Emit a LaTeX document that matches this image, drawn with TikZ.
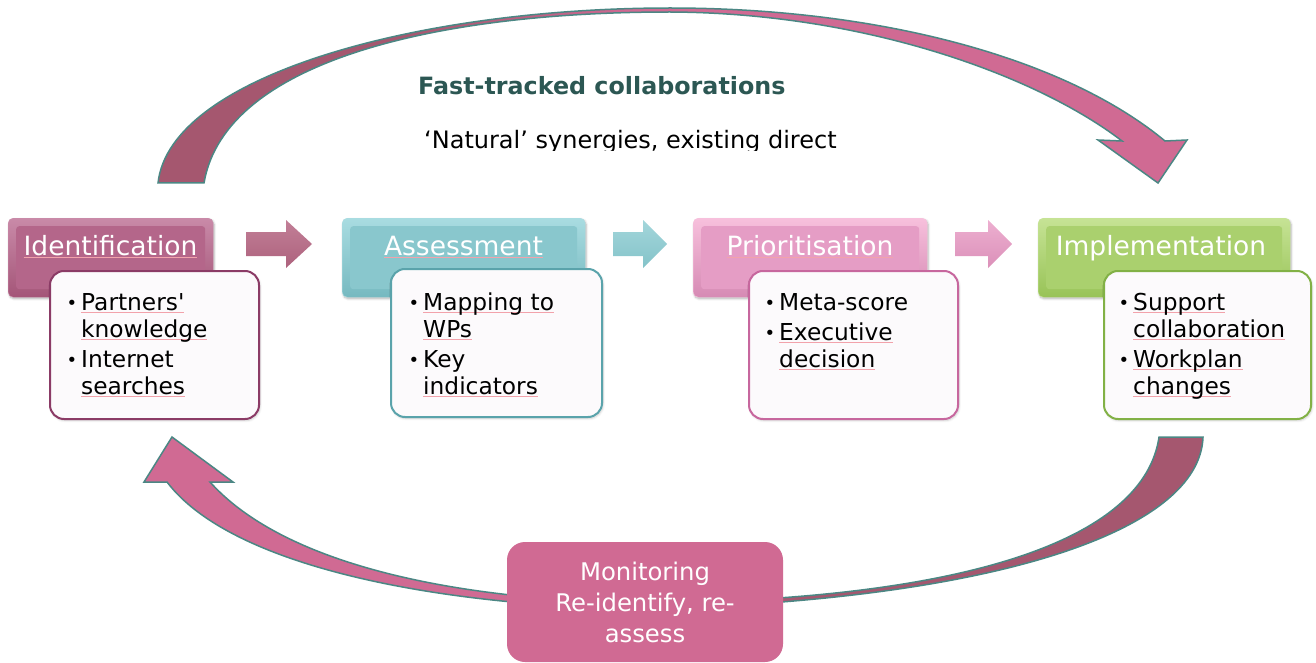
\documentclass[tikz,border=0pt]{standalone}
\usepackage{fontspec}
\setmainfont{DejaVu Sans}
\usetikzlibrary{shadows.blur}

% palette
\definecolor{arcdark}{HTML}{A5576F}
\definecolor{arcpink}{HTML}{D06A93}
\definecolor{arcedge}{HTML}{4B8784}
\definecolor{titleteal}{HTML}{2C5753}
\definecolor{squig}{HTML}{F2A2AB}
\definecolor{subfill}{HTML}{FCFAFC}
\definecolor{idtop}{HTML}{C98AA8}\definecolor{idmid}{HTML}{B4668A}\definecolor{idbot}{HTML}{A45578}\definecolor{idline}{HTML}{8B3B66}
\definecolor{astop}{HTML}{A9DCE1}\definecolor{asmid}{HTML}{89C7CD}\definecolor{asbot}{HTML}{76B9C0}\definecolor{asline}{HTML}{5AA3AB}
\definecolor{prtop}{HTML}{F7C0DC}\definecolor{prmid}{HTML}{E59DC5}\definecolor{prbot}{HTML}{D68AB4}\definecolor{prline}{HTML}{C7679E}
\definecolor{imtop}{HTML}{C6E395}\definecolor{immid}{HTML}{AAD06E}\definecolor{imbot}{HTML}{98C357}\definecolor{imline}{HTML}{82B146}
\definecolor{aone}{HTML}{AD627D}\definecolor{aonetop}{HTML}{C27F97}
\definecolor{atwo}{HTML}{84C3C9}\definecolor{atwotop}{HTML}{A3D6DB}
\definecolor{athree}{HTML}{DB90B9}\definecolor{athreetop}{HTML}{EDAFD0}

% colour runs of the two curved arrows
\pgfdeclarehorizontalshading{arctopshade}{100bp}{color(0bp)=(arcdark); color(37bp)=(arcdark); color(48bp)=(arcpink); color(100bp)=(arcpink)}
\pgfdeclarehorizontalshading{arcbotshade}{100bp}{color(0bp)=(arcpink); color(46bp)=(arcpink); color(56bp)=(arcdark); color(100bp)=(arcdark)}

% word with a light spell-check style underline
\newcommand\spl[1]{\setbox0=\hbox{#1}\leavevmode\rlap{\color{squig}\rule[-3pt]{\wd0}{1pt}}\box0}
\newcommand\bul{\makebox[13pt][l]{\hspace{-1.5pt}\raisebox{0.5pt}{\fontsize{18}{18}\selectfont •}}}
\newcommand\hdrfont{\fontsize{26.5}{30}\selectfont}
\newcommand\listfont{\fontsize{23.3}{27}\selectfont}

\begin{document}
\begin{tikzpicture}[x=1pt,y=-1pt,
  arcstyle/.style={draw=arcedge,line width=1.5pt,line join=miter},
  hdr/.style={rounded corners=5pt,minimum height=79pt,anchor=north west,inner sep=0pt,
    blur shadow={shadow blur steps=6,shadow xshift=1pt,shadow yshift=-1.5pt,shadow opacity=30}},
  bevel/.style={path picture={\fill[#1,rounded corners=3pt]
      ([xshift=8pt,yshift=-8pt]path picture bounding box.north west) rectangle
      ([xshift=-8pt,yshift=8pt]path picture bounding box.south east);}},
  hdrtext/.style={anchor=base,text=white,font=\hdrfont,inner sep=0pt},
  sub/.style={rounded corners=14pt,fill=subfill,line width=2pt,minimum height=148pt,
    anchor=north west,inner sep=0pt,
    blur shadow={shadow blur steps=6,shadow xshift=1pt,shadow yshift=-1.5pt,shadow opacity=20}},
  listtext/.style={anchor=base west,inner sep=0pt,font=\listfont,text=black},
  stepar/.style={line width=0pt},
  monbox/.style={rounded corners=18pt,fill=arcpink,minimum width=276pt,minimum height=120pt,
    text=white,align=center,font=\fontsize{24.3}{31}\selectfont,inner sep=0pt}]
\useasboundingbox (0,0) rectangle (1316,663);

% upper curved arrow (fast track)
\shade[arcstyle,shading=arctopshade]
  (158,183) .. controls (170,75) and (420,8) .. (670,8)
  .. controls (880,8) and (1065,58) .. (1165,141)
  -- (1187,140) -- (1158,183) -- (1098,140) -- (1122,141)
  .. controls (1040,78) and (870,13) .. (670,12)
  .. controls (440,12) and (225,60) .. (204,183) -- cycle;

% lower curved arrow (monitoring loop)
\shade[arcstyle,shading=arcbotshade]
  (1159,437) -- (1203,437)
  .. controls (1200,530) and (1000,600) .. (645,609)
  .. controls (430,606) and (230,565) .. (167,482)
  -- (144,482) -- (172,437) -- (233,482) -- (210,482)
  .. controls (280,560) and (440,600) .. (645,603)
  .. controls (980,600) and (1145,535) .. (1159,437) -- cycle;

% titles over the upper arrow
\node[anchor=base west,inner sep=0pt,text=titleteal,font=\fontsize{23.8}{27}\selectfont\bfseries]
  (fast) at (418,95) {Fast-tracked collaborations};
\begin{scope}
  \clip (380,100) rectangle (900,151);
  \node[anchor=base west,inner sep=0pt,font=\fontsize{24}{27}\selectfont]
    (natural) at (424,149) {‘Natural’ synergies, existing direct};
\end{scope}

% step headers
\node[hdr,top color=idtop,bottom color=idbot,draw=idtop,bevel=idmid,minimum width=205pt] (idh) at (8,218) {};
\node[hdr,top color=astop,bottom color=asbot,draw=astop,bevel=asmid,minimum width=243pt] (ash) at (342,218) {};
\node[hdr,top color=prtop,bottom color=prbot,draw=prtop,bevel=prmid,minimum width=234pt] (prh) at (693,218) {};
\node[hdr,top color=imtop,bottom color=imbot,draw=imtop,bevel=immid,minimum width=252pt] (imh) at (1038,218) {};

\node[hdrtext] (idt) at (110.5,255) {\spl{Identification}};
\node[hdrtext] (ast) at (463.5,255) {\spl{Assessment}};
\node[hdrtext] (prt) at (810,255) {\spl{Prioritisation}};
\node[hdrtext] (imt) at (1161,255) {Implementation};

% arrows between the steps
\shade[stepar,top color=aonetop,bottom color=aone]
  (246,232) -- (286,232) -- (286,220) -- (312,244) -- (286,268) -- (286,256) -- (246,256) -- cycle;
\shade[stepar,top color=atwotop,bottom color=atwo]
  (613,232) -- (643,232) -- (643,220) -- (667,244) -- (643,268) -- (643,256) -- (613,256) -- cycle;
\shade[stepar,top color=athreetop,bottom color=athree]
  (955,232) -- (988,232) -- (988,220) -- (1012,244) -- (988,268) -- (988,256) -- (955,256) -- cycle;

% detail boxes
\node[sub,draw=idline,minimum width=209pt] (idb) at (49,270) {};
\node[sub,draw=asline,minimum width=211pt] (asb) at (390,268) {};
\node[sub,draw=prline,minimum width=209pt] (prb) at (748,270) {};
\node[sub,draw=imline,minimum width=207pt] (imb) at (1103,270) {};

\node[listtext] (idl) at (68,310) {\begin{tabular}[t]{@{}l@{}l@{}}
  \bul & \spl{Partners\textquotesingle}\\ & \spl{knowledge}\\[3pt]
  \bul & Internet\\ & \spl{searches}\end{tabular}};
\node[listtext] (asl) at (410,310) {\begin{tabular}[t]{@{}l@{}l@{}}
  \bul & \spl{Mapping to}\\ & \spl{WPs}\\[3pt]
  \bul & Key\\ & \spl{indicators}\end{tabular}};
\node[listtext] (prl) at (766,310) {\begin{tabular}[t]{@{}l@{}l@{}}
  \bul & Meta-score\\[3pt]
  \bul & \spl{Executive}\\ & \spl{decision}\end{tabular}};
\node[listtext] (iml) at (1120,310) {\begin{tabular}[t]{@{}l@{}l@{}}
  \bul & \spl{Support}\\ & \spl{collaboration}\\[3pt]
  \bul & \spl{Workplan}\\ & \spl{changes}\end{tabular}};

% monitoring box on the lower arrow
\node[monbox] (mon) at (645,602) {Monitoring\\Re-identify, re-\\assess};
\end{tikzpicture}
\end{document}
